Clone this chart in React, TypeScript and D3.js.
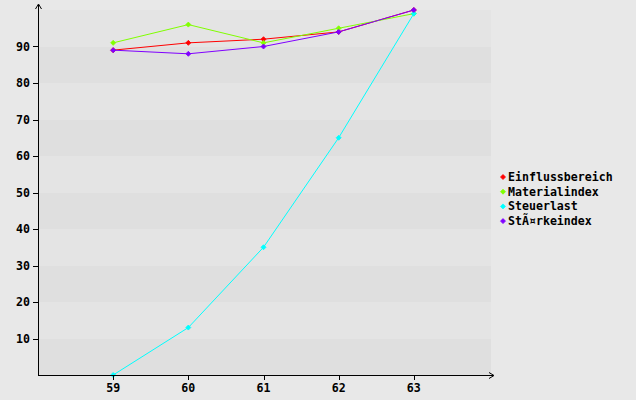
import React from "react";
import * as d3 from "d3";

const categories = [59, 60, 61, 62, 63];
const seriesNames = ["Einflussbereich", "Materialindex", "Steuerlast", "StÃ¤rkeindex"];
const einfluss = [89, 91, 92, 94, 100];
const material = [91, 96, 91, 95, 99];
const steuer = [0, 13, 35, 65, 99];
const staerke = [89, 88, 90, 94, 100];
const colors = ["#ff0000", "#80ff00", "#00ffff", "#8000ff"];
const yTicks = [10, 20, 30, 40, 50, 60, 70, 80, 90];

const W = 636, H = 400;
const x = d3.scaleLinear().domain([58, 64]).range([38, 489]);
const y = d3.scaleLinear().domain([0, 100]).range([375, 10]);

export default function App() {
  const series = [einfluss, material, steuer, staerke];
  const line = d3.line<number>().x((_, i) => x(categories[i])).y((v) => y(v));
  const bands = d3.range(0, 100, 10);
  const font = "'DejaVu Sans Mono', monospace";
  const marker = (cx: number, cy: number, c: string, k: string) => (
    <path key={k} d={`M${cx - 2.5},${cy} L${cx},${cy - 2.5} L${cx + 2.5},${cy} L${cx},${cy + 2.5} Z`} fill={c} stroke={c} strokeWidth={0.8} />
  );
  return (
    <svg width={W} height={H} style={{ position: "absolute", left: 0, top: 0 }}>
      <rect x={0} y={0} width={W} height={H} fill="#e8e8e8" />
      {bands.map((b) => (
        <rect key={b} x={38} y={y(b + 10)} width={491 - 38} height={y(b) - y(b + 10)} fill={(b / 10) % 2 === 0 ? "#dfdfdf" : "#e4e4e4"} />
      ))}
      {series.map((s, si) => (
        <g key={si}>
          <path d={line(s) || ""} fill="none" stroke={colors[si]} strokeWidth={1} />
          {s.map((v, i) => marker(x(categories[i]), y(v), colors[si], `${si}-${i}`))}
        </g>
      ))}
      <line x1={38.5} y1={5} x2={38.5} y2={375} stroke="#000" />
      <path d="M35.5,9 L38.5,4 L41.5,9" fill="none" stroke="#000" />
      <line x1={38} y1={375.5} x2={493} y2={375.5} stroke="#000" />
      <path d="M489,372.5 L494,375.5 L489,378.5" fill="none" stroke="#000" />
      {yTicks.map((t) => (
        <g key={t}>
          <line x1={33} x2={38} y1={Math.round(y(t)) + 0.5} y2={Math.round(y(t)) + 0.5} stroke="#000" />
          <text x={30} y={y(t) + 4} textAnchor="end" fontFamily={font} fontWeight="bold" fontSize={11.6} fill="#000">{t}</text>
        </g>
      ))}
      {categories.map((c) => (
        <g key={c}>
          <line x1={Math.round(x(c)) + 0.5} x2={Math.round(x(c)) + 0.5} y1={375} y2={380} stroke="#000" />
          <text x={x(c)} y={392} textAnchor="middle" fontFamily={font} fontWeight="bold" fontSize={11.6} fill="#000">{c}</text>
        </g>
      ))}
      {seriesNames.map((n, i) => (
        <g key={n}>
          {marker(503, 177 + i * 14.7, colors[i], `l${i}`)}
          <text x={508} y={181 + i * 14.7} fontFamily={font} fontWeight="bold" fontSize={11.6} fill="#000">{n}</text>
        </g>
      ))}
    </svg>
  );
}
